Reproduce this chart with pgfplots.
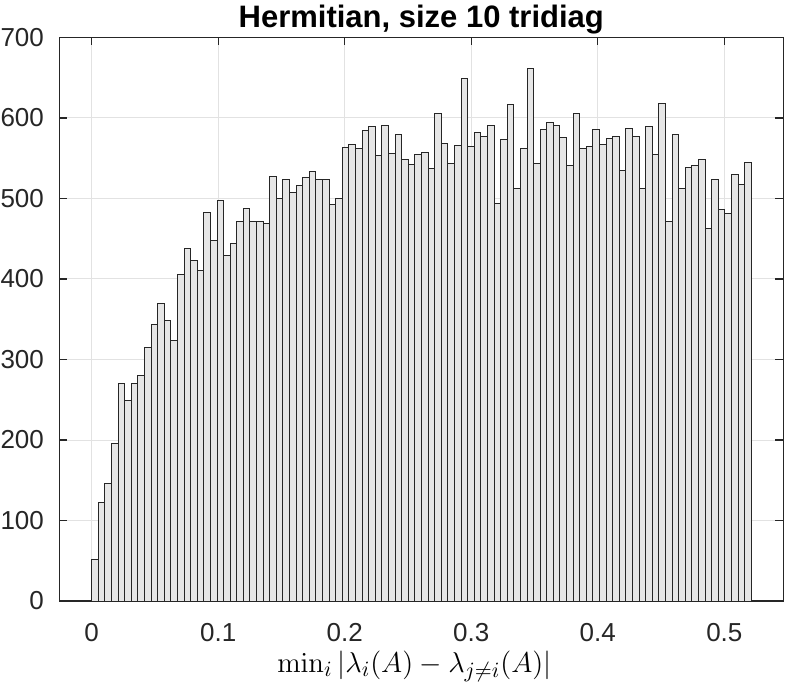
\documentclass[border=0pt]{standalone}
\usepackage[no-math]{fontspec}
\setmainfont{Liberation Sans}
\usepackage{pgfplots}
\usepackage{pgfplotstable}
\pgfplotsset{compat=1.18}
\definecolor{axgray}{HTML}{262626}
\definecolor{barfill}{HTML}{E6E6E6}
\definecolor{gridgray}{HTML}{E2E2E2}

% histogram: left bin edge, count (last row closes the final bin)
\pgfplotstableread{
edge count
0       52
0.00521 122
0.01043 146
0.01564 196
0.02085 270
0.02607 249
0.03128 270
0.03649 280
0.04170 315
0.04692 343
0.05213 369
0.05734 348
0.06256 323
0.06777 406
0.07298 438
0.07820 423
0.08341 411
0.08862 483
0.09383 448
0.09905 498
0.10426 429
0.10947 444
0.11469 471
0.11990 487
0.12511 471
0.13033 472
0.13554 469
0.14075 527
0.14596 500
0.15118 523
0.15639 508
0.16160 516
0.16682 526
0.17203 534
0.17724 524
0.18246 523
0.18767 492
0.19288 500
0.19809 563
0.20331 567
0.20852 562
0.21373 584
0.21895 590
0.22416 554
0.22937 591
0.23459 556
0.23980 579
0.24501 549
0.25022 542
0.25544 555
0.26065 557
0.26586 537
0.27108 605
0.27629 568
0.28150 543
0.28672 566
0.29193 649
0.29714 564
0.30235 582
0.30757 577
0.31278 591
0.31799 494
0.32321 573
0.32842 617
0.33363 513
0.33885 562
0.34406 661
0.34927 544
0.35448 586
0.35970 594
0.36491 591
0.37012 576
0.37534 541
0.38055 605
0.38576 562
0.39098 565
0.39619 586
0.40140 567
0.40661 574
0.41183 577
0.41704 535
0.42225 587
0.42747 577
0.43268 512
0.43789 589
0.44311 555
0.44832 618
0.45353 471
0.45874 579
0.46396 512
0.46917 538
0.47438 541
0.47960 548
0.48481 463
0.49002 523
0.49524 486
0.50045 481
0.50566 530
0.51087 517
0.51609 545
0.52130 545
}\histdata

\begin{document}
\begin{tikzpicture}
\begin{axis}[
  name=ax,
  scale only axis,
  width=362bp, height=281.75bp,
  xmin=-0.0256, xmax=0.5466,
  ymin=0, ymax=700,
  xtick={0,0.1,0.2,0.3,0.4,0.5},
  ytick={0,100,200,300,400,500,600,700},
  tick pos=both,
  tick align=inside,
  major tick length=4bp,
  axis line style={axgray, line width=0.6bp},
  tick style={axgray, line width=0.6bp},
  grid=major,
  major grid style={gridgray, line width=0.5bp},
  /pgf/number format/assume math mode=true,
  ticklabel style={font=\fontsize{13bp}{16bp}\selectfont, text=axgray},
  xticklabel style={anchor=base, inner sep=0pt, yshift=-20bp},
  yticklabel style={anchor=east, inner sep=0pt, xshift=-7.5bp},
  every axis title shift=0pt,
  title={Hermitian, size 10 tridiag},
  title style={at={(axis description cs:0.5,1)}, anchor=base, yshift=5.1bp,
    inner sep=0pt, font=\bfseries\fontsize{15.5bp}{18bp}\selectfont},
  xlabel={$\min_i |\lambda_i(A) - \lambda_{j\neq i}(A)|$},
  xlabel style={at={(axis description cs:0.5,0)}, anchor=base, yshift=-35.5bp,
    xshift=-3.5bp, inner sep=0pt, font=\fontsize{15.5bp}{18bp}\selectfont},
]
\addplot[ybar interval, fill=barfill, draw=axgray, line width=0.5bp]
  table[x=edge, y=count] {\histdata};
\end{axis}
\pgfresetboundingbox
\path ([shift={(-29.65bp,-45bp)}]ax.south west) rectangle ([shift={(2.35bp,18.75bp)}]ax.north east);
\end{tikzpicture}
\end{document}
